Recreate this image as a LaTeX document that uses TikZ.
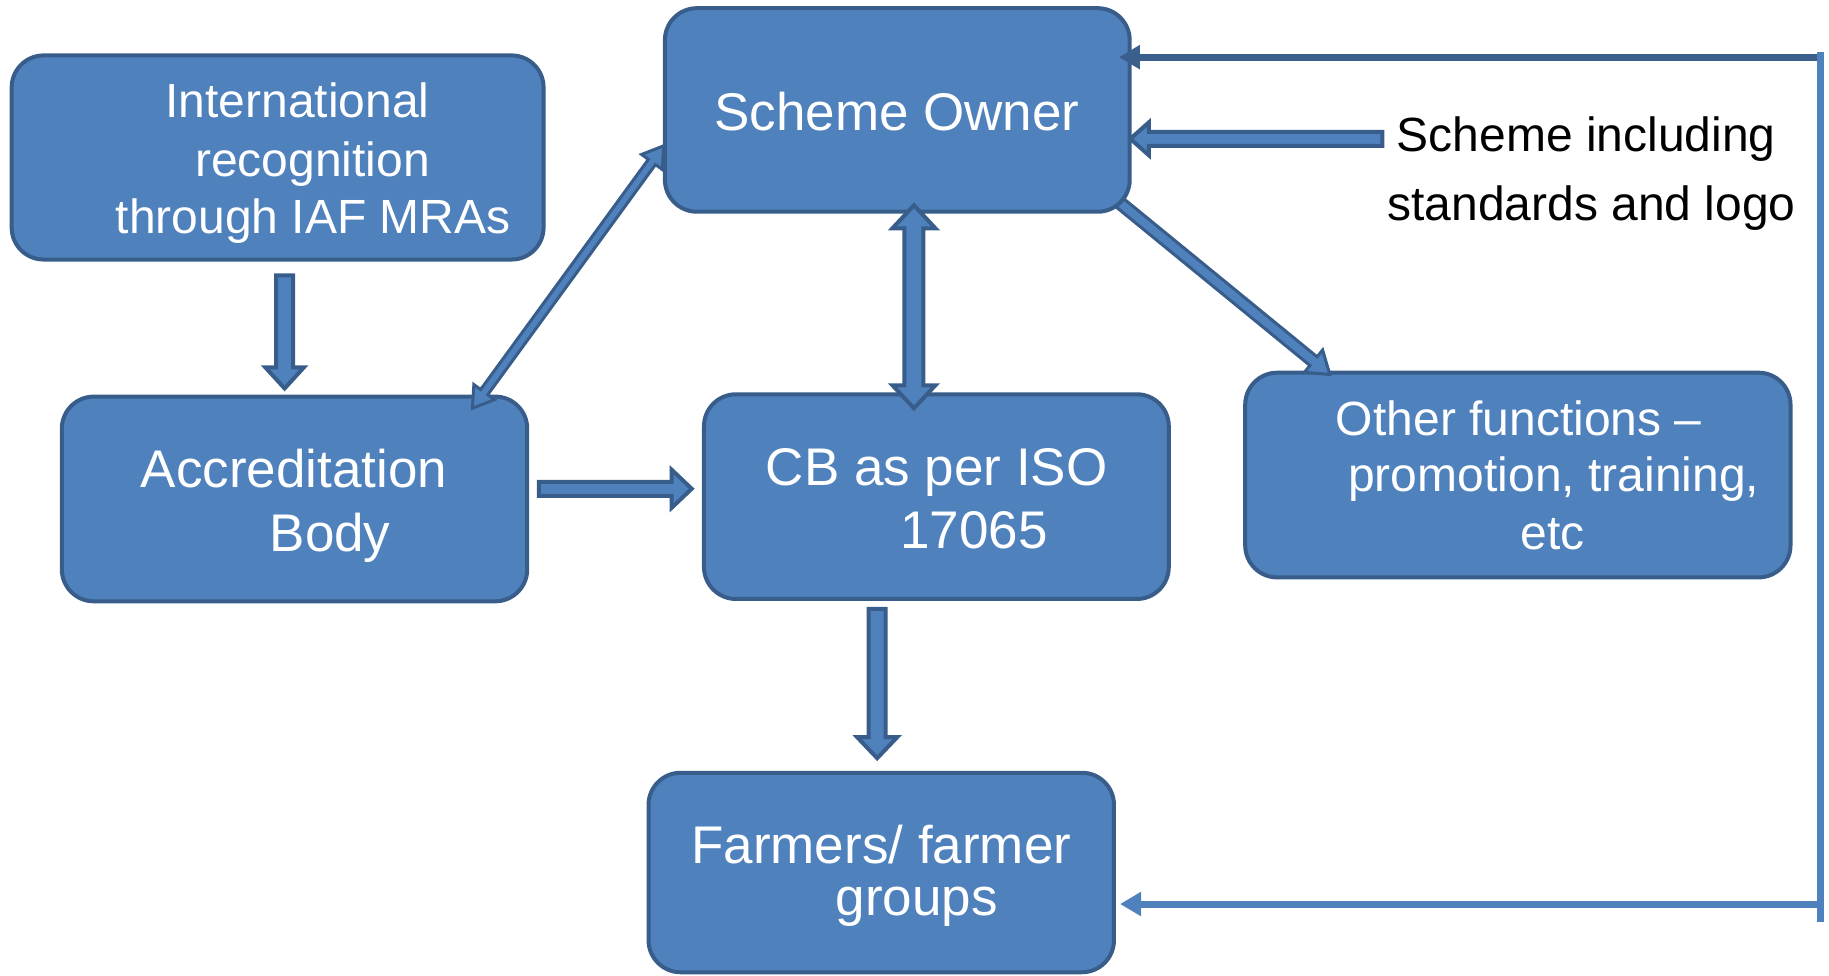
\documentclass[tikz,border=0pt]{standalone}
\usepackage{fontspec}
\setmainfont{Liberation Sans}
\usetikzlibrary{calc,fit,arrows.meta}
\definecolor{boxfill}{RGB}{79,129,189}
\definecolor{boxline}{RGB}{56,93,138}
\definecolor{darkline}{RGB}{58,95,140}
% single-headed block arrow: style, start, tip, shaft half-width, head half-width, head length
\newcommand{\arrowone}[6]{%
  \coordinate (aA) at (#2); \coordinate (aB) at (#3);
  \coordinate (aH) at ($(aB)!#6!(aA)$);
  \draw[#1] ($(aA)!#4!90:(aB)$) -- ($(aH)!#4!90:(aB)$) -- ($(aH)!#5!90:(aB)$) -- (aB)
    -- ($(aH)!#5!-90:(aB)$) -- ($(aH)!#4!-90:(aB)$) -- ($(aA)!#4!-90:(aB)$) -- cycle;
}
% double-headed block arrow
\newcommand{\arrowtwo}[6]{%
  \coordinate (aA) at (#2); \coordinate (aB) at (#3);
  \coordinate (aH) at ($(aB)!#6!(aA)$);
  \coordinate (aG) at ($(aA)!#6!(aB)$);
  \draw[#1] (aA) -- ($(aG)!#5!90:(aB)$) -- ($(aG)!#4!90:(aB)$) -- ($(aH)!#4!90:(aB)$)
    -- ($(aH)!#5!90:(aB)$) -- (aB) -- ($(aH)!#5!-90:(aB)$) -- ($(aH)!#4!-90:(aB)$)
    -- ($(aG)!#4!-90:(aB)$) -- ($(aG)!#5!-90:(aB)$) -- cycle;
}
\begin{document}
\begin{tikzpicture}[x=0.58325pt,y=-0.58325pt,
  box/.style={draw=boxline, fill=boxfill, line width=2pt, rounded corners=16pt, inner sep=0pt},
  big/.style={font=\fontsize{26.5pt}{32pt}\selectfont, text=white, anchor=base, inner sep=0pt},
  small/.style={font=\fontsize{24pt}{28pt}\selectfont, text=white, anchor=base, inner sep=0pt},
  plain/.style={font=\fontsize{24pt}{28pt}\selectfont, text=black, anchor=base west, inner sep=0pt},
  blk/.style={draw=boxline, fill=boxfill, line width=2pt},
  thinblk/.style={draw=boxline, fill=boxfill, line width=1.5pt},
  fb/.style={line width=3.5pt, draw=boxfill},
  fbtip/.style={-{Triangle[width=11.5pt,length=10.5pt]}},
]
\useasboundingbox (0,0) rectangle (1568,836);

% boxes (Other first, then arrow behind Scheme Owner corner)
\node[box, fit={(1067.5,319.5) (1535,495)}] (other) {};
\arrowone{thinblk}{948,164}{1140,321}{2.8pt}{7.2pt}{10.5pt}
\node[box, fit={(570,7) (968.5,181.5)}] (so) {};
\node[box, fit={(10,47.5) (466,222.5)}] (intl) {};
\node[box, fit={(53,340) (452,515.5)}] (acc) {};
\node[box, fit={(603.5,338) (1002,513.5)}] (cb) {};
\node[box, fit={(556,662.5) (955,833.5)}] (farm) {};

% texts
\node[small] (intl1) at (255,101) {International};
\node[small] (intl2) at (268,151.5) {recognition};
\node[small] (intl3) at (268.5,200) {through IAF MRAs};
\node[big] (so1) at (769,111.5) {Scheme Owner};
\node[big] (acc1) at (252,417.5) {Accreditation};
\node[big] (acc2) at (283,472.5) {Body};
\node[big] (cb1) at (803,416) {CB as per ISO};
\node[big] (cb2) at (835,470) {17065};
\node[small] (oth1) at (1302,373) {Other functions \textendash};
\node[small] (oth2) at (1332,421.5) {promotion, training,};
\node[small] (oth3) at (1331,471.5) {etc};
\node[big] (farm1) at (755.5,740) {Farmers/ farmer};
\node[big] (farm2) at (786,785) {groups};
\node[plain] (sch1) at (1197,130) {Scheme including};
\node[plain] (sch2) at (1189,189) {standards and logo};

% block arrows
\arrowone{blk}{244,236}{244,333}{4.25pt}{9.6pt}{10.5pt}
\arrowtwo{thinblk}{405,350}{569,125}{2.2pt}{6.4pt}{10pt}
\arrowtwo{blk}{783.5,176}{783.5,350}{4.75pt}{10.75pt}{11.5pt}
\arrowone{blk}{462,419}{593,419}{3.5pt}{9.5pt}{10pt}
\arrowone{blk}{752,522}{752,650}{4.25pt}{10pt}{10.5pt}
\arrowone{blk}{1185,119}{969,119}{3.5pt}{8.25pt}{9.3pt}

% feedback connector
\coordinate (fbtr) at (1561,49);
\coordinate (fbbr) at (1561,775);
\coordinate (fbtop) at (1561,45);
\coordinate (fbbot) at (1561,790);
\draw[fb, draw=darkline, fbtip] (fbtr) -- ($(so.east |- fbtr)+(-11,0)$);
\draw[fb] (fbtop) -- (fbbot);
\draw[fb, fbtip] (fbbr) -- ($(farm.east |- fbbr)+(3.5,0)$);
\end{tikzpicture}
\end{document}
